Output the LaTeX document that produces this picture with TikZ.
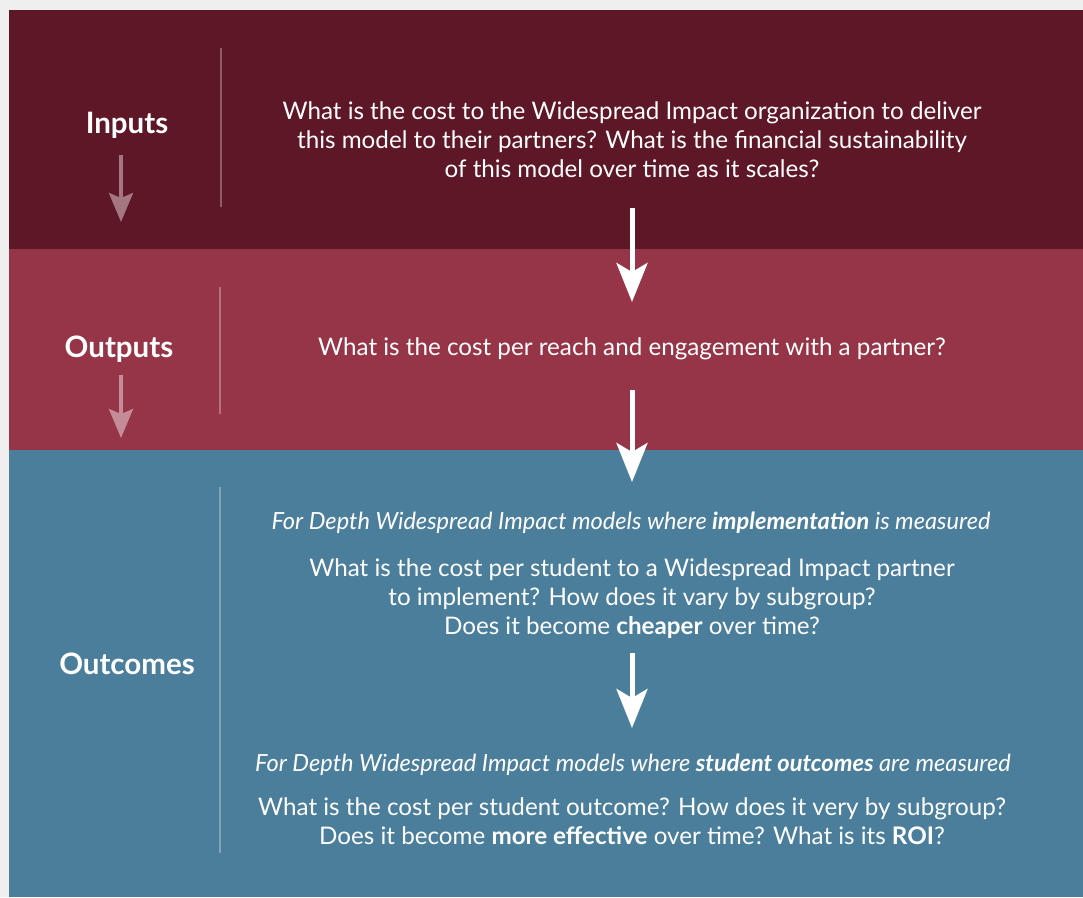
\documentclass[tikz,border=0pt]{standalone}
\usepackage{fontspec}
\setmainfont{Lato}
\usetikzlibrary{arrows.meta}
\definecolor{bggray}{HTML}{EFEFEF}
\definecolor{inband}{HTML}{5D1726}
\definecolor{outband}{HTML}{963547}
\definecolor{ocband}{HTML}{4B7E9B}
\definecolor{inarrow}{RGB}{163,118,128}
\definecolor{outarrow}{RGB}{196,140,150}
\tikzset{
  body/.style={text=white, align=center, inner sep=0pt, font=\fontsize{24.2}{29}\selectfont},
  note/.style={text=white, align=center, inner sep=0pt, font=\fontsize{23.6}{29}\selectfont\itshape},
  stage/.style={text=white, inner sep=0pt, font=\fontsize{29.5}{34}\selectfont\bfseries},
  divider/.style={draw=white, draw opacity=0.3, line width=2pt},
  bigarrow/.style={draw=white, line width=5pt, -{Stealth[length=39pt, width=31pt, inset=9pt]}},
  smallarrow/.style={line width=3.5pt, -{Stealth[length=29pt, width=24pt, inset=5pt]}},
}
\begin{document}
\begin{tikzpicture}[x=1pt, y=-1pt]
\useasboundingbox (0,0) rectangle (1083,897);
\fill[bggray] (0,0) rectangle (1083,897);
\fill[inband] (9,10) rectangle (1083,249);
\fill[outband] (9,249) rectangle (1083,450);
\fill[ocband] (9,450) rectangle (1083,897);

% dividers
\coordinate (d1a) at (221,48); \coordinate (d1b) at (221,207);
\coordinate (d2a) at (220,287); \coordinate (d2b) at (220,414);
\coordinate (d3a) at (220,487); \coordinate (d3b) at (220,853);
\draw[divider] (d1a) -- (d1b);
\draw[divider] (d2a) -- (d2b);
\draw[divider] (d3a) -- (d3b);

% stage labels
\node[stage] (inputs) at (127,125) {Inputs};
\node[stage] (outputs) at (119,349) {Outputs};
\node[stage] (outcomes) at (127,664) {Outcomes};

% small arrows
\coordinate (s1a) at (121,155); \coordinate (s1b) at (121,222);
\coordinate (s2a) at (121,375); \coordinate (s2b) at (121,438);
\draw[smallarrow, draw=inarrow, fill=inarrow] (s1a) -- (s1b);
\draw[smallarrow, draw=outarrow, fill=outarrow] (s2a) -- (s2b);

% texts
\node[body] (q1) at (632,140) {What is the cost to the Widespread Impact organization to deliver\\this model to their partners? What is the financial sustainability\\of this model over time as it scales?};
\node[body] (q2) at (632,349) {What is the cost per reach and engagement with a partner?};
\node[note] (n1) at (631,523) {For Depth Widespread Impact models where \textbf{implementation} is measured};
\node[body] (q3) at (632,599) {What is the cost per student to a Widespread Impact partner\\to implement? How does it vary by subgroup?\\Does it become \textbf{cheaper} over time?};
\node[note] (n2) at (633,765) {For Depth Widespread Impact models where \textbf{student outcomes} are measured};
\node[body] (q4) at (632,821) {What is the cost per student outcome? How does it very by subgroup?\\Does it become \textbf{more effective} over time? What is its \textbf{ROI}?};

% big arrows
\coordinate (a1a) at (632,208); \coordinate (a1b) at (632,302);
\coordinate (a2a) at (632,390); \coordinate (a2b) at (632,482);
\coordinate (a3a) at (632,653); \coordinate (a3b) at (632,728);
\draw[bigarrow] (a1a) -- (a1b);
\draw[bigarrow] (a2a) -- (a2b);
\draw[bigarrow] (a3a) -- (a3b);
\end{tikzpicture}
\end{document}
